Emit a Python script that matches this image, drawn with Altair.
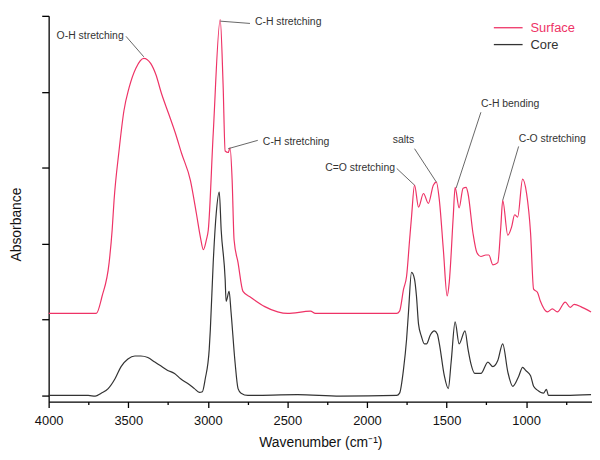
import altair as alt
import pandas as pd

# ---------------- data ----------------
surface_wn = [4000, 3869, 3701, 3664, 3620, 3601, 3589, 3558, 3527, 3495,
              3452, 3402, 3358, 3327, 3290, 3246, 3203, 3165, 3109, 3072,
              3047, 3028, 3009, 2997, 2966, 2922, 2904, 2891, 2872, 2860,
              2847, 2835, 2810, 2779, 2729, 2642, 2561, 2499, 2355, 2324,
              2125, 1813, 1795, 1770, 1751, 1732, 1720, 1701, 1676, 1645,
              1614, 1583, 1564, 1545, 1520, 1496, 1483, 1458, 1446, 1421,
              1396, 1377, 1365, 1334, 1309, 1284, 1253, 1234, 1209, 1178,
              1159, 1147, 1115, 1091, 1072, 1053, 1022, 997, 972, 953,
              929, 910, 866, 835, 804, 754, 723, 698, 648, 592]
surface_abs = [1.08, 1.08, 1.08, 1.31, 1.75, 2.18, 2.57, 3.22, 3.75, 4.05,
               4.31, 4.44, 4.37, 4.23, 3.97, 3.71, 3.45, 3.19, 2.83, 2.40,
               2.09, 1.92, 2.05, 2.18, 3.45, 4.95, 4.10, 3.22, 3.20, 3.26,
               2.83, 2.05, 1.75, 1.37, 1.29, 1.17, 1.10, 1.08, 1.11, 1.08,
               1.08, 1.08, 1.11, 1.40, 1.57, 2.05, 2.35, 2.77, 2.48, 2.66,
               2.53, 2.77, 2.81, 2.57, 1.92, 1.31, 1.49, 2.35, 2.74, 2.47,
               2.73, 2.74, 2.66, 2.14, 1.88, 1.83, 1.85, 1.85, 1.72, 1.75,
               2.22, 2.57, 2.11, 2.22, 2.38, 2.35, 2.85, 2.66, 2.14, 1.40,
               1.36, 1.24, 1.10, 1.14, 1.10, 1.23, 1.16, 1.20, 1.16, 1.10]

core_wn = [4000, 3751, 3707, 3670, 3626, 3583, 3545, 3502, 3458, 3421,
           3377, 3333, 3296, 3252, 3209, 3171, 3128, 3084, 3053, 3034,
           3016, 2991, 2984, 2966, 2947, 2928, 2916, 2891, 2885, 2866,
           2854, 2829, 2810, 2791, 2748, 2436, 2168,
           1813, 1795, 1770, 1751, 1739, 1720, 1701, 1689, 1676, 1658,
           1639, 1626, 1601, 1577, 1558, 1545, 1514, 1489, 1471, 1446,
           1421, 1384, 1365, 1347, 1322, 1284, 1240, 1209, 1178, 1147,
           1115, 1084, 1047, 1022, 1003, 972, 953, 929, 891, 872,
           860, 754, 592]
core_abs = [0, 0, -0.01, 0.03, 0.09, 0.22, 0.38, 0.48, 0.52, 0.52,
            0.50, 0.44, 0.39, 0.33, 0.29, 0.22, 0.16, 0.09, 0.04, 0.05,
            0.22, 0.61, 0.87, 1.75, 2.40, 2.68, 2.18, 1.53, 1.24, 1.37,
            1.10, 0.44, 0.09, 0.03, 0, 0.01, -0.01,
            0, 0.03, 0.35, 0.74, 1.10, 1.62, 1.53, 1.31, 0.94, 0.78,
            0.68, 0.68, 0.80, 0.85, 0.81, 0.68, 0.26, 0.09, 0.44, 0.97,
            0.68, 0.85, 0.61, 0.42, 0.29, 0.29, 0.44, 0.38, 0.46, 0.68,
            0.31, 0.12, 0.25, 0.37, 0.33, 0.26, 0.12, 0.07, 0.03, 0.08,
            0, 0, 0.01]

series_names = ["Surface", "Core"]
series_colors = ["#ee3366", "#333333"]

ann_labels = ["O-H stretching", "C-H stretching", "C-H stretching",
              "C=O stretching", "salts", "C-H bending", "C-O stretching"]
ann_wn = [3950, 2704, 2654, 2262, 1838, 1284, 1047]
ann_abs = [4.74, 4.92, 3.34, 3.00, 3.36, 3.84, 3.38]
lead_wn_text = [3514, 2735, 2686, 1813, 1701, 1284, 1047]
lead_abs_text = [4.73, 4.90, 3.36, 2.99, 3.25, 3.73, 3.28]
lead_wn_peak = [3402, 2922, 2872, 1701, 1564, 1440, 1147]
lead_abs_peak = [4.46, 4.93, 3.25, 2.77, 2.81, 2.73, 2.57]

all_ticks = list(range(750, 4001, 250))
y_ticks = [0, 1, 2, 3, 4, 5]

# ---------------- tables ----------------
spec_df = pd.concat([
    pd.DataFrame({"wn": surface_wn, "absorb": surface_abs, "series": "Surface"}),
    pd.DataFrame({"wn": core_wn, "absorb": core_abs, "series": "Core"}),
])
ann_df = pd.DataFrame({"label": ann_labels, "wn": ann_wn, "absorb": ann_abs})
lead_df = pd.DataFrame({"x1": lead_wn_text, "y1": lead_abs_text,
                        "x2": lead_wn_peak, "y2": lead_abs_peak})

FONT = "Liberation Sans"
xs = alt.Scale(domain=[586, 4000], reverse=True, nice=False, zero=False)
ys = alt.Scale(domain=[-0.08, 5], nice=False, zero=False)

x_axis = alt.Axis(
    values=all_ticks, format="d",
    labelExpr="datum.value % 500 === 0 ? datum.label : ''",
    tickSize={"condition": {"test": "datum.value % 500 === 0", "value": 6}, "value": 3},
    labelFontSize=13, labelPadding=7, labelFlush=False, labelOverlap=False,
    title="Wavenumber (cm\u207b\u00b9)", titleFontSize=14, titleFontWeight="normal",
    titleY=45, titleBaseline="alphabetic",
)
y_axis = alt.Axis(
    values=y_ticks, labels=False, tickSize=7,
    title="Absorbance", titleFontSize=14, titleFontWeight="normal",
    titleX=-32, titleY=210, titleAngle=270, titleAlign="center", titleBaseline="middle",
)

lines = alt.Chart(spec_df).mark_line(strokeWidth=1.2, interpolate="monotone").encode(
    x=alt.X("wn:Q", scale=xs, axis=x_axis),
    y=alt.Y("absorb:Q", scale=ys, axis=y_axis),
    color=alt.Color("series:N", scale=alt.Scale(domain=series_names, range=series_colors), legend=None),
    detail="series:N",
)

leaders = alt.Chart(lead_df).mark_rule(color="#666666", strokeWidth=1).encode(
    x=alt.X("x1:Q", scale=xs, axis=x_axis), x2="x2:Q",
    y=alt.Y("y1:Q", scale=ys, axis=y_axis), y2="y2:Q",
)

labels = alt.Chart(ann_df).mark_text(
    align="left", baseline="middle", font=FONT, fontSize=10.5, color="#333333"
).encode(
    x=alt.X("wn:Q", scale=xs, axis=x_axis),
    y=alt.Y("absorb:Q", scale=ys, axis=y_axis),
    text="label:N",
)

one = pd.DataFrame({"k": [0]})
leg_layers = []
for i, (nm, col) in enumerate(zip(series_names, series_colors)):
    yy = 12 + 17 * i
    leg_layers.append(alt.Chart(one).mark_rule(color=col, strokeWidth=1.3).encode(
        x=alt.value(449), x2=alt.value(478), y=alt.value(yy)))
    leg_layers.append(alt.Chart(one).mark_text(
        align="left", baseline="middle", font=FONT, fontSize=13, color=col
    ).encode(x=alt.value(486), y=alt.value(yy), text=alt.value(nm)))

chart = alt.layer(lines, leaders, labels, *leg_layers).properties(
    width=548, height=389,
    autosize=alt.AutoSizeParams(type="none"),
    padding={"left": 41, "top": 6, "right": 0, "bottom": 49},
).configure_view(stroke=None).configure_axis(
    grid=False, domainColor="#000000", tickColor="#000000",
    domainWidth=1.3, tickWidth=1.3,
    labelFont=FONT, titleFont=FONT, labelColor="#111111", titleColor="#111111",
)

chart.save("out.html", embed_options={"renderer": "svg", "actions": False})
